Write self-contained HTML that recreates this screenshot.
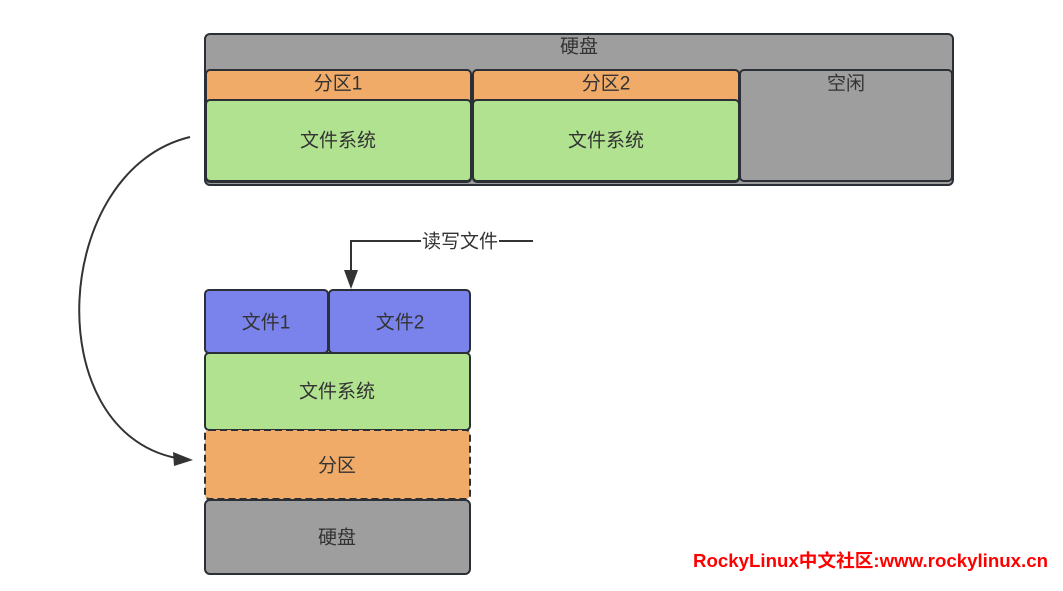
<!DOCTYPE html>
<html>
<head>
<meta charset="utf-8">
<style>
  html, body { margin:0; padding:0; background:#ffffff; }
  body { width:1063px; height:591px; overflow:hidden; }
  svg { display:block; }
  text { font-family: "Liberation Sans", "Noto Sans CJK SC", sans-serif; fill:#333333; font-size:19px; }
</style>
</head>
<body>
<svg width="1063" height="591" viewBox="0 0 1063 591" xmlns="http://www.w3.org/2000/svg">
  <!-- Top disk -->
  <rect x="205" y="34" width="748" height="151" rx="5" ry="5" fill="#9e9e9e" stroke="#2b3036" stroke-width="2"/>
  <text x="579" y="47" text-anchor="middle" dominant-baseline="central">硬盘</text>

  <!-- Partition 1 -->
  <rect x="206" y="70" width="265" height="112" rx="4" ry="4" fill="#f0ab68" stroke="#2b3036" stroke-width="2"/>
  <rect x="206" y="100" width="265" height="81" rx="4" ry="4" fill="#b0e290" stroke="#2b3036" stroke-width="2"/>
  <text x="338" y="84" text-anchor="middle" dominant-baseline="central">分区1</text>
  <text x="338" y="141" text-anchor="middle" dominant-baseline="central">文件系统</text>

  <!-- Partition 2 -->
  <rect x="473" y="70" width="266" height="112" rx="4" ry="4" fill="#f0ab68" stroke="#2b3036" stroke-width="2"/>
  <rect x="473" y="100" width="266" height="81" rx="4" ry="4" fill="#b0e290" stroke="#2b3036" stroke-width="2"/>
  <text x="606" y="84" text-anchor="middle" dominant-baseline="central">分区2</text>
  <text x="606" y="141" text-anchor="middle" dominant-baseline="central">文件系统</text>

  <!-- Free -->
  <rect x="740" y="70" width="212" height="111" rx="4" ry="4" fill="#9e9e9e" stroke="#2b3036" stroke-width="2"/>
  <text x="846" y="84" text-anchor="middle" dominant-baseline="central">空闲</text>

  <!-- Curved arrow -->
  <path d="M190 137 C 52 170, 38 430, 176 458" fill="none" stroke="#333333" stroke-width="2"/>
  <polygon points="193,460 173,452 174,466" fill="#333333"/>

  <!-- Lower stack -->
  <rect x="205" y="290" width="123" height="63" rx="4" ry="4" fill="#7a83eb" stroke="#2b3036" stroke-width="2"/>
  <rect x="329" y="290" width="141" height="63" rx="4" ry="4" fill="#7a83eb" stroke="#2b3036" stroke-width="2"/>
  <text x="266" y="323" text-anchor="middle" dominant-baseline="central">文件1</text>
  <text x="400" y="323" text-anchor="middle" dominant-baseline="central">文件2</text>

  <rect x="205" y="353" width="265" height="77" rx="4" ry="4" fill="#b0e290" stroke="#2b3036" stroke-width="2"/>
  <text x="337" y="392" text-anchor="middle" dominant-baseline="central">文件系统</text>

  <rect x="205" y="430" width="265" height="69" rx="4" ry="4" fill="#f0ab68" stroke="#2b3036" stroke-width="2" stroke-dasharray="7 4"/>
  <text x="337" y="466" text-anchor="middle" dominant-baseline="central">分区</text>

  <rect x="205" y="500" width="265" height="74" rx="5" ry="5" fill="#9e9e9e" stroke="#2b3036" stroke-width="2"/>
  <text x="337" y="538" text-anchor="middle" dominant-baseline="central">硬盘</text>

  <!-- Read/write arrow -->
  <polyline points="533,241 351,241 351,274" fill="none" stroke="#333333" stroke-width="2"/>
  <polygon points="344,270 358,270 351,289" fill="#333333"/>
  <rect x="421" y="230" width="78" height="24" fill="#ffffff"/>
  <text x="460" y="242" text-anchor="middle" dominant-baseline="central">读写文件</text>

  <!-- Watermark text -->
  <text x="693" y="561" dominant-baseline="central" textLength="355" lengthAdjust="spacingAndGlyphs" style="fill:#ff0000;font-weight:bold;font-size:18px;">RockyLinux中文社区:www.rockylinux.cn</text>
</svg>
</body>
</html>
